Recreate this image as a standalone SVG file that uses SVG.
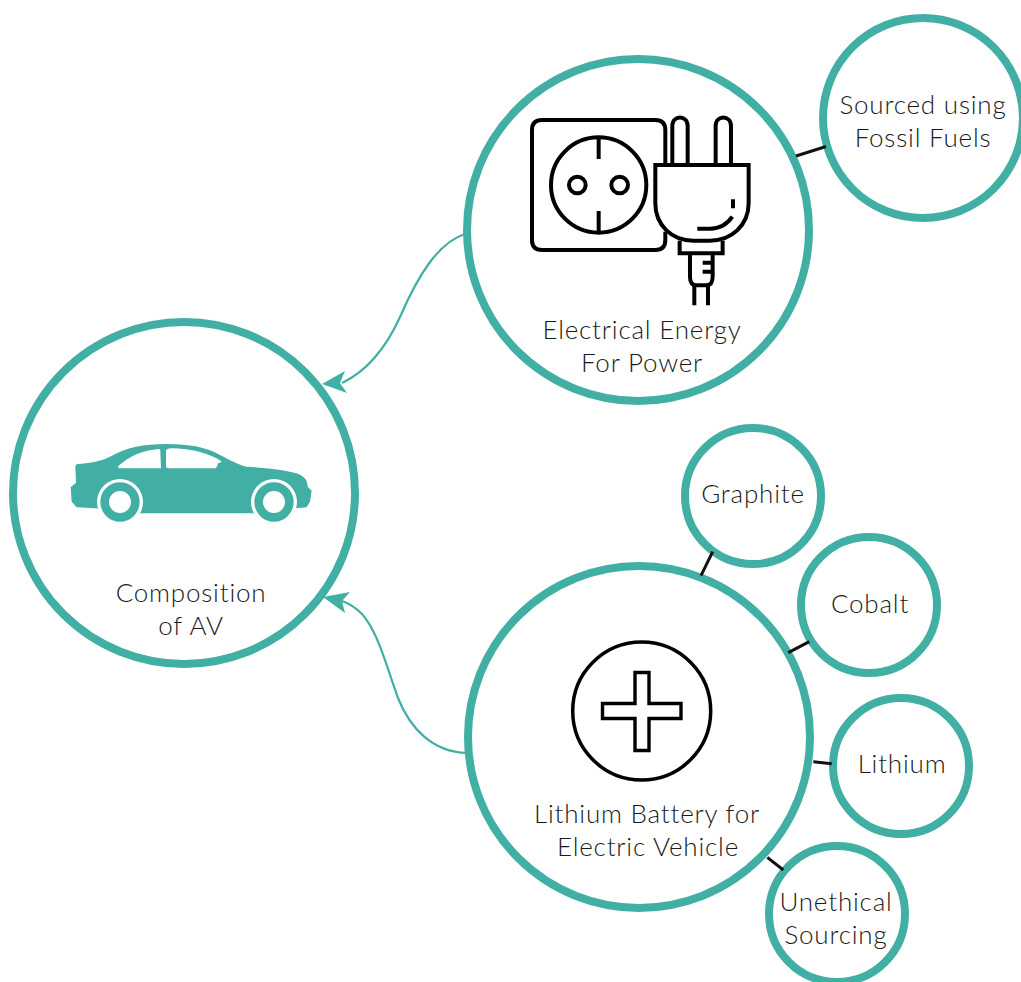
<svg xmlns="http://www.w3.org/2000/svg" width="1021" height="982" viewBox="0 0 1021 982">
<style>
.c{fill:#fff;stroke:#42afa5;stroke-width:8}
.t{font-family:Lato,"Open Sans",sans-serif;font-weight:300;font-size:26px;fill:#1a1a1a;text-anchor:middle;letter-spacing:.8px}
.l{stroke:#111;stroke-width:3;fill:none}
.a{stroke:#42afa5;stroke-width:2.2;fill:none}
.i{fill:none;stroke:#000;stroke-width:12}
</style>
<rect width="1021" height="982" fill="#fff"/>
<g id="composition">
<circle class="c" cx="184" cy="493" r="171"/>
<g transform="translate(50 430) scale(.3333)">
<path fill="#42afa5" d="M84 102C115 100 150 95 180 80C230 52 280 42 350 42C420 42 470 52 510 75C540 90 565 105 590 110C640 113 700 118 740 130C765 140 772 150 773 170L785 182L780 215L770 232L720 236L620 250L260 250L160 236L80 232L65 215L62 172L78 158L76 110Q76 102 84 102Z"/>
<circle cx="210" cy="216" r="69" fill="#fff"/>
<circle cx="672" cy="216" r="69" fill="#fff"/>
<circle cx="210" cy="216" r="46" fill="none" stroke="#42afa5" stroke-width="26"/>
<circle cx="672" cy="216" r="46" fill="none" stroke="#42afa5" stroke-width="26"/>
<path fill="#fff" d="M205 108C235 80 280 60 327 57Q331 57 331 62L333 115L212 115Q203 115 205 108ZM348 64C349 57 355 55 365 55C420 55 480 70 516 95L505 100L498 115L355 115Q348 115 348 108Z"/>
</g>
<text class="t" x="191" y="602">Composition</text>
<text class="t" x="191" y="635">of AV</text>
</g>
<g id="electrical-energy">
<circle class="c" cx="638" cy="230" r="171"/>
<g transform="translate(510 100) scale(.3333)">
<path class="i" d="M466 195L466 90Q466 60 436 60L96 60Q66 60 66 90L66 420Q66 450 96 450L436 450Q466 450 466 420L466 395"/>
<circle class="i" cx="266" cy="255" r="143"/>
<path class="i" d="M266 115V177M266 333V395"/>
<circle class="i" cx="202" cy="255" r="25"/>
<circle class="i" cx="329" cy="255" r="25"/>
<path class="i" d="M487 195V78C487 44 533 44 533 78V195M617 195V78C617 44 663 44 663 78V195"/>
<path class="i" d="M436 195H716V310C716 375 665 422 600 422H550C485 422 436 375 436 310Z"/>
<path class="i" d="M509 422V460H638V422"/>
<path class="i" d="M540 460V530Q540 556 560 556H588Q608 556 608 530V460M608 488H578M608 515H578"/>
<path class="i" d="M553 556V616M594 556V616"/>
<path class="i" d="M669 298V325M562 386H600C630 386 650 375 667 350"/>
</g>
<text class="t" x="642" y="339">Electrical Energy</text>
<text class="t" x="642" y="372">For Power</text>
</g>
<g id="lithium-battery">
<circle class="c" cx="639" cy="737" r="171"/>
<circle cx="641.7" cy="711" r="69" fill="none" stroke="#000" stroke-width="3.5"/>
<path d="M635 672.5H649V703.5H681V718.5H649V750.5H635V718.5H602.5V703.5H635Z" fill="none" stroke="#000" stroke-width="3.4"/>
<text class="t" x="647" y="823">Lithium Battery for</text>
<text class="t" x="648" y="856">Electric Vehicle</text>
</g>
<g id="fossil-fuels">
<circle class="c" cx="923" cy="118" r="100"/>
<text class="t" x="923" y="114">Sourced using</text>
<text class="t" x="923" y="147">Fossil Fuels</text>
</g>
<g id="graphite">
<circle class="c" cx="753" cy="496" r="68"/>
<text class="t" x="753" y="503">Graphite</text>
</g>
<g id="cobalt">
<circle class="c" cx="869" cy="605" r="68"/>
<text class="t" x="870" y="613">Cobalt</text>
</g>
<g id="lithium">
<circle class="c" cx="901" cy="766" r="68"/>
<text class="t" x="902" y="773">Lithium</text>
</g>
<g id="unethical-sourcing">
<circle class="c" cx="837" cy="914" r="68"/>
<text class="t" x="836" y="911">Unethical</text>
<text class="t" x="836" y="944">Sourcing</text>
</g>
<g id="connectors">
<path class="l" d="M796 156L826 146.5"/>
<path class="l" d="M712.7 551.7L701 575.7"/>
<path class="l" d="M809.3 641.7L788.3 652.7"/>
<path class="l" d="M813.3 761.7L831.7 763.7"/>
<path class="l" d="M767.3 857.3L783.3 870"/>
<path class="a" d="M465 234C437 243 417 278 400 317C385 350 365 372 342 383"/>
<path d="M322 384L345 371L340 383L347 393Z" fill="#42afa5"/>
<path class="a" d="M467 753C432 752 410 728 398 698C386 665 378 632 362 614C355 607 348 603 342 601"/>
<path d="M323 597L350 592L342 601L345 613Z" fill="#42afa5"/>
</g>
</svg>
